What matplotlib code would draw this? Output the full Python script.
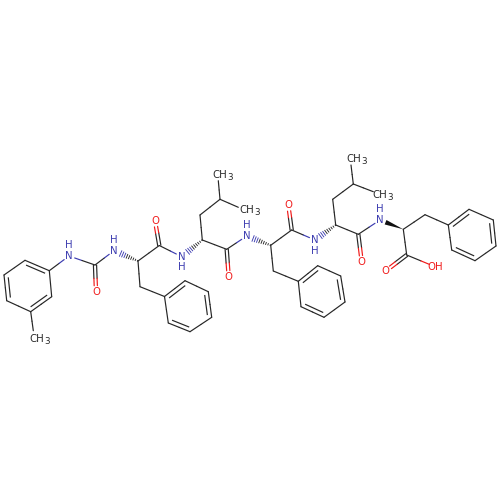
import matplotlib
matplotlib.use("Agg")
import matplotlib.pyplot as plt
import numpy as np

# Atom positions
atom_x = [49.3, 25, 4, 6.7, 30.7, 51.7, 33.3,          # tolyl + methyl  0-6
          69, 95, 96, 114,                              # urea  7-10
          138, 159.3, 155, 140,                         # Phe1  11-14
          164.5, 185, 208.3, 211.7, 190, 168.3,         # ring  15-20
          181.7, 202.3, 200, 220, 218.3, 238.3, 226.7, 228.7,  # Leu1  21-28
          246.7, 270.7, 291.7, 288.3, 273.3,            # Phe2  29-33
          298.3, 317.7, 340.7, 345, 324, 301,           # ring  34-39
          315, 335.7, 332.7, 353.3, 351, 373.3, 358.3, 361.7,  # Leu2  40-47
          380, 403.3, 425,                              # Phe3  48-50
          448.3, 469, 493.3, 496, 475, 451.7,           # ring  51-56
          406.7, 385.7, 435]                            # COOH  57-59
atom_y = [270.7, 260.3, 275, 300.7, 311.7, 296.7, 330.7,
          256, 265, 291.7, 250.7,
          261, 245.5, 220.7, 286.7,
          296.5, 280.7, 291.7, 317.3, 331.7, 323,
          256.7, 240, 215, 199.3, 180.7, 207.3, 249.3, 276.7,
          236, 245.3, 230, 205, 271,
          281.3, 265.7, 276, 302, 317.3, 306.7,
          240, 225, 199.3, 184, 165, 191.7, 234.3, 261.7,
          220, 229.3, 214.7,
          225, 209.3, 220, 246, 260.7, 250,
          255, 271, 266.7]

# Labelled atoms: index -> text
hetero_labels = {7: "N", 9: "O", 10: "N", 13: "O", 21: "N", 28: "O", 29: "N",
                 32: "O", 40: "N", 47: "O", 48: "N", 58: "O", 59: "OH"}
h_above = [7, 10, 29, 48]
h_below = [21, 40]
methyl_labels = {6: (41, 339), 25: (224, 175.5), 26: (251, 210), 44: (358, 159), 45: (384, 195)}

single_bonds = [(1, 2), (3, 4), (5, 0), (4, 6), (0, 7), (7, 8), (8, 10),
                (11, 12), (11, 14), (14, 15), (16, 17), (18, 19), (20, 15),
                (12, 21), (22, 23), (23, 24), (24, 25), (24, 26), (22, 27), (27, 29),
                (30, 31), (30, 33), (33, 34), (35, 36), (37, 38), (39, 34),
                (31, 40), (41, 42), (42, 43), (43, 44), (43, 45), (41, 46), (46, 48),
                (49, 50), (49, 57), (50, 51), (52, 53), (54, 55), (56, 51), (57, 59)]
carbonyl_bonds = [(8, 9), (12, 13), (27, 28), (31, 32), (46, 47), (57, 58)]
# third atom only tells which side of the bond is inside the ring
ring_double_bonds = [(0, 1, 3), (2, 3, 0), (4, 5, 2),
                     (15, 16, 18), (17, 18, 20), (19, 20, 17),
                     (34, 35, 37), (36, 37, 39), (38, 39, 36),
                     (51, 52, 54), (53, 54, 56), (55, 56, 53)]
hash_wedges = [(11, 10), (22, 21), (30, 29), (41, 40)]
solid_wedges = [(49, 48)]

BLUE = "#3c3cb0"
RED = "#f01818"
BLACK = "#262626"
LW = 0.85
FS = 7.3

fig = plt.figure(figsize=(5, 5), dpi=100)
ax = fig.add_axes([0, 0, 1, 1])
ax.set_xlim(0, 500)
ax.set_ylim(500, 0)
ax.axis("off")

xy = np.column_stack([atom_x, atom_y])


def color_of(i):
    if i in hetero_labels:
        return BLUE if hetero_labels[i] == "N" else RED
    return BLACK


def gap_of(i):
    return 6.0 if i in hetero_labels else 0.0


def draw_bond(a, b, p=None, q=None):
    # half coloured line, cut back at labelled atoms
    p = xy[a] if p is None else p
    q = xy[b] if q is None else q
    d = (q - p) / np.hypot(*(q - p))
    start = p + d * gap_of(a)
    end = q - d * gap_of(b)
    mid = (p + q) / 2
    ax.plot([start[0], mid[0]], [start[1], mid[1]], color=color_of(a), lw=LW, solid_capstyle="round")
    ax.plot([mid[0], end[0]], [mid[1], end[1]], color=color_of(b), lw=LW, solid_capstyle="round")


for a, b in single_bonds:
    draw_bond(a, b)

for a, b in carbonyl_bonds:
    d = xy[b] - xy[a]
    n = np.array([-d[1], d[0]]) / np.hypot(*d)
    draw_bond(a, b, xy[a] + n * 1.6, xy[b] + n * 1.6)
    draw_bond(a, b, xy[a] - n * 1.6, xy[b] - n * 1.6)

for a, b, c in ring_double_bonds:
    draw_bond(a, b)
    d = xy[b] - xy[a]
    n = np.array([-d[1], d[0]]) / np.hypot(*d)
    if np.dot(n, xy[c] - xy[a]) < 0:
        n = -n
    p = xy[a] + n * 4 + d * 0.13
    q = xy[b] + n * 4 - d * 0.13
    ax.plot([p[0], q[0]], [p[1], q[1]], color=BLACK, lw=LW)

for a, b in hash_wedges:
    d = xy[b] - xy[a]
    length = np.hypot(*d)
    u = d / length
    n = np.array([-u[1], u[0]])
    for t in np.arange(0.5, length - 6, 2.3):
        c = xy[a] + u * t
        w = 0.3 + t * 0.14
        col = BLACK if t < length / 2 else BLUE
        ax.plot([c[0] - n[0] * w, c[0] + n[0] * w], [c[1] - n[1] * w, c[1] + n[1] * w], color=col, lw=0.65)

for a, b in solid_wedges:
    d = xy[b] - xy[a]
    u = d / np.hypot(*d)
    n = np.array([-u[1], u[0]])
    tip = xy[b] - u * 6
    ax.fill([xy[a][0], tip[0] + n[0] * 2.4, tip[0] - n[0] * 2.4],
            [xy[a][1], tip[1] + n[1] * 2.4, tip[1] - n[1] * 2.4], color="#111111", lw=0)

for i, label in hetero_labels.items():
    ax.text(xy[i][0], xy[i][1], label, color=color_of(i), fontsize=FS, ha="center", va="center")
for i in h_above:
    ax.text(xy[i][0], xy[i][1] - 10.5, "H", color=BLUE, fontsize=FS, ha="center", va="center")
for i in h_below:
    ax.text(xy[i][0], xy[i][1] + 10.5, "H", color=BLUE, fontsize=FS, ha="center", va="center")
for i, (tx, ty) in methyl_labels.items():
    ax.text(tx + 3, ty, "CH", color=BLACK, fontsize=FS, ha="right", va="center")
    ax.text(tx + 3.5, ty + 2.5, "3", color=BLACK, fontsize=FS - 1, ha="left", va="center")

fig.savefig("out.png", dpi=100, facecolor="white")
